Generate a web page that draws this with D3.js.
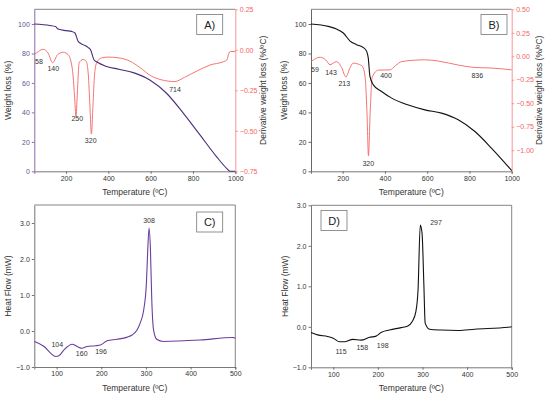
<!DOCTYPE html>
<html>
<head>
<meta charset="utf-8">
<script src="https://cdn.jsdelivr.net/npm/d3@7"></script>
<style>
  body { margin: 0; background: #fff; }
  svg { display: block; font-family: "Liberation Sans", Arial, sans-serif; }
</style>
</head>
<body>
<div id="chart"></div>
<script>
// --- data: [temperature, value] ---
var weightA = [[50,100],[124,99],[150,98.3],[163,96.6],[200,95.5],[226,95],[242,93.9],[258,88],[281,86],[305,84],[316,82.5],[332,75.7],[348,74],[392,71.2],[450,69.3],[518,67],[596,62],[675,53],[754,39.5],[833,24.7],[911,10],[959,2],[975,0],[1000,0]];
var derivA = [[50,-0.03],[70,-0.01],[92,0.003],[115,-0.02],[137,-0.08],[160,-0.03],[187,-0.015],[210,-0.03],[230,-0.12],[240,-0.28],[247,-0.41],[253,-0.28],[262,-0.08],[280,-0.06],[295,-0.07],[305,-0.15],[313,-0.35],[320,-0.52],[327,-0.35],[335,-0.15],[345,-0.08],[368,-0.05],[400,-0.045],[450,-0.05],[502,-0.07],[550,-0.11],[600,-0.16],[650,-0.185],[714,-0.196],[760,-0.17],[820,-0.13],[880,-0.094],[943,-0.074],[960,-0.063],[970,-0.02],[976,-0.011],[1000,-0.01]];
var peaksA = [[58,"58"],[140,"140"],[250,"250"],[320,"320"],[714,"714"]];

var weightB = [[50,100],[132,98.4],[171,96.6],[203,93.9],[235,88.4],[266,86],[298,84],[313,81.6],[321,77],[329,64.4],[345,58.7],[384,54.2],[432,49.7],[511,45],[589,41.7],[668,39.5],[747,35],[826,27],[905,15.6],[1000,0.5]];
var derivB = [[50,-0.057],[93,-0.01],[120,-0.04],[140,-0.09],[171,-0.057],[195,-0.12],[215,-0.22],[235,-0.12],[250,-0.074],[290,-0.1],[305,-0.2],[315,-0.6],[322,-1.06],[330,-0.6],[340,-0.22],[369,-0.148],[424,-0.145],[450,-0.1],[479,-0.057],[540,-0.042],[589,-0.038],[650,-0.05],[750,-0.095],[826,-0.12],[900,-0.125],[1000,-0.145]];
var peaksB = [[59,"59"],[143,"143"],[213,"213"],[320,"320"],[400,"400"],[836,"836"]];

var dscC = [[50,-0.29],[72,-0.43],[87,-0.62],[98,-0.71],[105,-0.69],[116,-0.53],[135,-0.37],[146,-0.43],[157,-0.48],[168,-0.43],[187,-0.41],[198,-0.39],[213,-0.27],[235,-0.23],[258,-0.17],[269,-0.11],[280,0.03],[287,0.22],[295,0.59],[301,1.33],[304,2.26],[307,2.86],[310,2.26],[313,0.87],[317,0.03],[324,-0.23],[339,-0.29],[421,-0.25],[495,-0.18],[500,-0.2]];
var peaksC = [[104,"104"],[160,"160"],[196,"196"],[308,"308"]];

var dscD = [[50,-0.14],[65,-0.2],[87,-0.24],[100,-0.28],[114,-0.37],[125,-0.37],[144,-0.31],[162,-0.33],[181,-0.26],[196,-0.23],[207,-0.14],[226,-0.08],[252,-0.02],[267,0.02],[277,0.13],[285,0.37],[290,0.91],[295,2.51],[299,2.31],[303,1.07],[306,0.09],[316,-0.06],[342,-0.08],[380,-0.09],[417,-0.06],[492,-0.01],[500,0]];
var peaksD = [[115,"115"],[158,"158"],[198,"198"],[297,"297"]];

var tgaTicksX = [200, 400, 600, 800, 1000];
var dscTicksX = [100, 200, 300, 400, 500];
var weightTicks = [0, 20, 40, 60, 80, 100];

var svg = d3.select("#chart").append("svg")
  .attr("width", 550)
  .attr("height", 399);

var purple = "#4b2c7c";
var red = "#f46464";
var redAxis = "#f78a8a";
var frame = "#666";

// draws one panel; opts holds layout + data references
function panel(o) {
  var g = svg.append("g");
  var x = d3.scaleLinear().domain(o.xDomain).range([o.left, o.right]);
  var y = d3.scaleLinear().domain(o.yDomain).range([o.bottom, o.top]);

  // frame top / bottom
  g.append("line").attr("x1", o.left).attr("x2", o.right).attr("y1", o.top).attr("y2", o.top)
    .attr("stroke", frame).attr("stroke-width", 0.8);
  if (!o.y2Domain) {
    g.append("line").attr("x1", o.right).attr("x2", o.right).attr("y1", o.top).attr("y2", o.bottom)
      .attr("stroke", frame).attr("stroke-width", 0.8);
  }

  var xAxis = g.append("g").attr("transform", "translate(0," + o.bottom + ")")
    .call(d3.axisBottom(x).tickValues(o.xTicks).tickSize(2.5).tickPadding(2).tickFormat(d3.format("d")));
  xAxis.selectAll("path, line").attr("stroke", "#555").attr("stroke-width", 0.8);
  xAxis.selectAll("text").attr("fill", "#333").attr("font-size", 7);

  var yAxis = g.append("g").attr("transform", "translate(" + o.left + ",0)")
    .call(d3.axisLeft(y).tickValues(o.yTicks).tickSize(2.5).tickPadding(2).tickFormat(o.yFormat).tickSizeOuter(0));
  yAxis.selectAll("path, line").attr("stroke", o.yAxisColor).attr("stroke-width", 0.9);
  yAxis.selectAll("text").attr("fill", o.yTextColor).attr("font-size", 7);

  var line = d3.line().x(d => x(d[0])).y(d => y(d[1])).curve(d3.curveMonotoneX);

  var y2;
  if (o.y2Domain) {
    y2 = d3.scaleLinear().domain(o.y2Domain).range([o.bottom, o.top]);
    var rAxis = g.append("g").attr("transform", "translate(" + o.right + ",0)")
      .call(d3.axisRight(y2).tickValues(o.y2Ticks).tickSize(2.5).tickPadding(2).tickFormat(d3.format(".2f")).tickSizeOuter(0));
    rAxis.selectAll("path, line").attr("stroke", redAxis).attr("stroke-width", 0.9);
    rAxis.selectAll("text").attr("fill", red).attr("font-size", 7)
      .text(d => d3.format(".2f")(d).replace("-", "\u2212"));
    var line2 = d3.line().x(d => x(d[0])).y(d => y2(d[1])).curve(d3.curveMonotoneX);
    g.append("path").datum(o.data2)
      .attr("fill", "none").attr("stroke", red).attr("stroke-width", 0.9)
      .attr("d", line2);
    g.append("text")
      .attr("transform", "translate(" + o.y2LabelX + "," + ((o.top + o.bottom) / 2) + ") rotate(-90)")
      .attr("text-anchor", "middle").attr("font-size", 8.5).attr("fill", "#333")
      .text("Derivative weight loss (%/\u00baC)");
  }

  g.append("path").datum(o.data)
    .attr("fill", "none").attr("stroke", o.lineColor).attr("stroke-width", o.lineWidth)
    .attr("d", line);

  // peak annotations
  g.selectAll("text.peak").data(o.peaks).join("text")
    .attr("class", "peak")
    .attr("x", (d, i) => o.labelPos[i][0])
    .attr("y", (d, i) => o.labelPos[i][1])
    .attr("text-anchor", "middle").attr("font-size", 7).attr("fill", "#333")
    .text(d => d[1]);

  // axis titles
  g.append("text").attr("x", (o.left + o.right) / 2).attr("y", o.xLabelY)
    .attr("text-anchor", "middle").attr("font-size", 8.5).attr("fill", "#333")
    .text("Temperature (\u00baC)");
  g.append("text")
    .attr("transform", "translate(" + o.yLabelX + "," + ((o.top + o.bottom) / 2) + ") rotate(-90)")
    .attr("text-anchor", "middle").attr("font-size", 8.5).attr("fill", "#333")
    .text(o.yLabel);

  // panel tag
  g.append("rect").attr("x", o.tag[0]).attr("y", o.tag[1]).attr("width", 26).attr("height", 20)
    .attr("fill", "#fff").attr("stroke", "#777").attr("stroke-width", 0.8);
  g.append("text").attr("x", o.tag[0] + 13).attr("y", o.tag[1] + 14)
    .attr("text-anchor", "middle").attr("font-size", 11).attr("fill", "#222")
    .text(o.tagText);
}

panel({
  left: 34.3, right: 235.3, top: 9.3, bottom: 171.3,
  xDomain: [50, 1000], yDomain: [0, 110], y2Domain: [-0.75, 0.25],
  xTicks: tgaTicksX, yTicks: weightTicks, y2Ticks: [-0.75, -0.5, -0.25, 0, 0.25],
  yFormat: d3.format("d"), yAxisColor: "#7a5aa8", yTextColor: "#6b5490",
  data: weightA, data2: derivA, lineColor: purple, lineWidth: 1.1,
  peaks: peaksA, labelPos: [[39, 64], [53.3, 70.5], [77.3, 121], [90.7, 143], [175, 92]],
  xLabelY: 195, yLabelX: 11, y2LabelX: 266, yLabel: "Weight loss (%)",
  tag: [196.7, 14.5], tagText: "A)"
});

panel({
  left: 311, right: 511.7, top: 9.3, bottom: 171.3,
  xDomain: [50, 1000], yDomain: [0, 110], y2Domain: [-1.225, 0.5],
  xTicks: tgaTicksX, yTicks: weightTicks, y2Ticks: [-1, -0.75, -0.5, -0.25, 0, 0.25, 0.5],
  yFormat: d3.format("d"), yAxisColor: "#555", yTextColor: "#333",
  data: weightB, data2: derivB, lineColor: "#111", lineWidth: 1.1,
  peaks: peaksB, labelPos: [[315, 71.5], [331, 74.5], [344.3, 86], [368.3, 166], [386, 78], [477.3, 78]],
  xLabelY: 195, yLabelX: 287, y2LabelX: 542, yLabel: "Weight loss (%)",
  tag: [481, 14.5], tagText: "B)"
});

panel({
  left: 34.3, right: 235.3, top: 205, bottom: 367,
  xDomain: [50, 500], yDomain: [-1, 3.5],
  xTicks: dscTicksX, yTicks: [-1, 0, 1, 2, 3],
  yFormat: d => d3.format(".1f")(d).replace("-", "\u2212"), yAxisColor: "#666", yTextColor: "#333",
  data: dscC, lineColor: "#6a3f9c", lineWidth: 1.1,
  peaks: peaksC, labelPos: [[57.3, 346.5], [81.7, 356], [101, 354], [149, 223]],
  xLabelY: 391, yLabelX: 11, yLabel: "Heat Flow (mW)",
  tag: [196.7, 212], tagText: "C)"
});

panel({
  left: 311, right: 511.7, top: 205.3, bottom: 367.3,
  xDomain: [50, 500], yDomain: [-1, 3],
  xTicks: dscTicksX, yTicks: [-1, 0, 1, 2, 3],
  yFormat: d => d3.format(".1f")(d).replace("-", "\u2212"), yAxisColor: "#666", yTextColor: "#333",
  data: dscD, lineColor: "#111", lineWidth: 1.1,
  peaks: peaksD, labelPos: [[341, 354], [362.3, 349.5], [382.7, 348], [436, 225]],
  xLabelY: 391, yLabelX: 288, yLabel: "Heat Flow (mW)",
  tag: [321, 210.5], tagText: "D)"
});
</script>
</body>
</html>
